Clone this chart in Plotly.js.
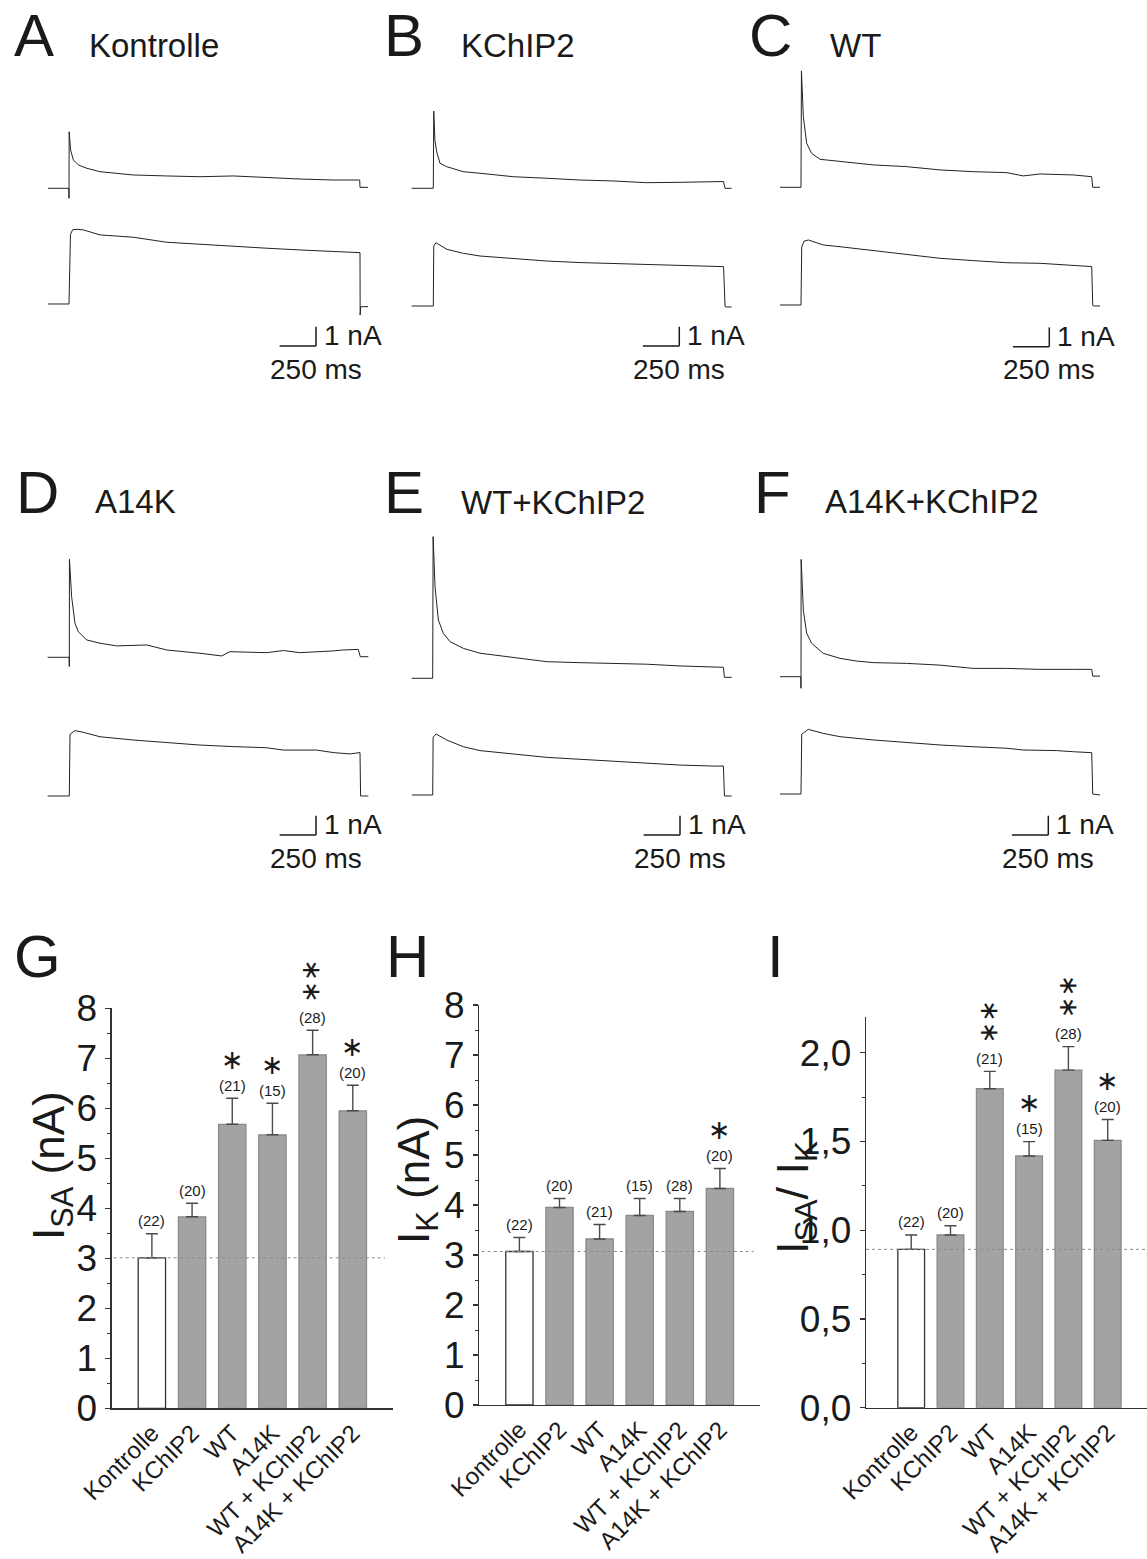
<!DOCTYPE html>
<html><head><meta charset="utf-8">
<script src="https://cdn.plot.ly/plotly-3.0.1.min.js"></script>
<style>html,body{margin:0;padding:0;background:#fff;}#chart{width:1147px;height:1559px;}</style>
</head><body><div id="chart"></div>
<script>
// ---------- DATA: current traces (time in ms, current in nA) ----------
const A_top_t = [-145, -1, 0, 1, 11, 30, 64, 121, 213, 442, 671, 900, 1129, 1359, 1588, 1817, 1998, 2000, 2055];
const A_top_i = [0, 0, -0.52, 2.93, 1.98, 1.47, 1.21, 1.04, 0.86, 0.69, 0.64, 0.6, 0.64, 0.55, 0.48, 0.43, 0.43, 0.05, 0.05];
const A_bot_t = [-145, -1, 0, 10, 25, 55, 98, 213, 442, 671, 900, 1129, 1359, 1588, 1817, 2000, 2001, 2005, 2055];
const A_bot_i = [0, 0, 0, 3.6, 3.85, 3.87, 3.84, 3.58, 3.46, 3.2, 3.09, 2.97, 2.89, 2.8, 2.71, 2.66, -0.57, -0.14, -0.14];

const B_top_t = [-149, -1, 0, 3, 11, 23, 46, 92, 206, 321, 550, 779, 1008, 1237, 1466, 1695, 1924, 1995, 2005, 2050];
const B_top_i = [0, 0, 0, 4.0, 2.5, 1.9, 1.3, 1.12, 0.86, 0.78, 0.6, 0.52, 0.43, 0.38, 0.29, 0.31, 0.35, 0.35, 0, 0];
const B_bot_t = [-149, -1, 0, 3, 18, 92, 206, 321, 550, 779, 1008, 1237, 1466, 1695, 1924, 1995, 2005, 2008, 2050];
const B_bot_i = [0, 0, 0, 3.1, 3.28, 2.94, 2.73, 2.59, 2.47, 2.33, 2.25, 2.21, 2.16, 2.12, 2.07, 2.04, 0, -0.05, -0.05];

const C_top_t = [-144, -1, 0, 3, 16, 39, 73, 131, 268, 497, 726, 955, 1184, 1414, 1528, 1643, 1872, 1998, 2005, 2055];
const C_top_i = [0, 0, 0, 6.03, 3.66, 2.28, 1.76, 1.45, 1.33, 1.16, 1.07, 0.9, 0.81, 0.76, 0.59, 0.69, 0.64, 0.55, 0, 0];
const C_bot_t = [-144, -1, 0, 5, 20, 50, 153, 268, 497, 726, 955, 1184, 1414, 1643, 1872, 1998, 2005, 2010, 2055];
const C_bot_i = [0, 0, 0, 3.0, 3.3, 3.37, 3.11, 3.02, 2.82, 2.59, 2.42, 2.30, 2.19, 2.16, 2.04, 1.99, 0, -0.05, -0.05];

const D_top_t = [-149, -1, 0, 1, 16, 39, 62, 119, 211, 325, 532, 669, 898, 1047, 1104, 1356, 1471, 1585, 1814, 1883, 1986, 2000, 2055];
const D_top_i = [0, 0, -0.48, 5.08, 3.14, 1.76, 1.33, 0.9, 0.73, 0.59, 0.64, 0.38, 0.21, 0.07, 0.29, 0.24, 0.35, 0.24, 0.33, 0.38, 0.41, 0.03, 0.03];
const D_bot_t = [-149, -1, 0, 5, 39, 96, 211, 440, 669, 898, 1127, 1356, 1471, 1700, 1814, 1929, 1998, 2002, 2055];
const D_bot_i = [0, 0, 0, 3.2, 3.39, 3.3, 3.07, 2.9, 2.76, 2.64, 2.56, 2.5, 2.38, 2.38, 2.25, 2.18, 2.25, 0, 0];

const E_top_t = [-144, -1, 0, 3, 16, 39, 73, 119, 211, 325, 554, 784, 1013, 1242, 1471, 1700, 1929, 1998, 2005, 2055];
const E_top_i = [0, 0, 0, 7.34, 4.75, 3.02, 2.33, 1.9, 1.55, 1.3, 1.07, 0.86, 0.81, 0.78, 0.73, 0.64, 0.6, 0.57, 0.05, 0.05];
const E_bot_t = [-144, -1, 0, 3, 23, 96, 211, 325, 554, 784, 1013, 1242, 1471, 1700, 1929, 1998, 2005, 2055];
const E_bot_i = [0, 0, 0, 3.0, 3.16, 2.85, 2.5, 2.3, 2.12, 1.95, 1.85, 1.76, 1.64, 1.55, 1.5, 1.5, -0.05, -0.05];

const F_top_t = [-144, -1, 0, 1, 16, 39, 73, 153, 268, 383, 497, 726, 955, 1184, 1414, 1643, 1872, 1998, 2005, 2055];
const F_top_i = [0, 0, -0.6, 6.08, 3.45, 2.25, 1.73, 1.21, 0.95, 0.81, 0.73, 0.69, 0.6, 0.43, 0.43, 0.38, 0.38, 0.38, 0.03, 0.03];
const F_bot_t = [-144, -1, 0, 5, 50, 153, 268, 497, 726, 955, 1184, 1414, 1528, 1757, 1872, 1998, 2005, 2055];
const F_bot_i = [0, 0, 0, 3.1, 3.35, 3.14, 2.97, 2.8, 2.66, 2.54, 2.45, 2.37, 2.28, 2.25, 2.19, 2.14, 0, -0.05];

// ---------- DATA: summary bars ----------
const groups = ['Kontrolle', 'KChIP2', 'WT', 'A14K', 'WT + KChIP2', 'A14K + KChIP2'];
const nCells = [22, 20, 21, 15, 28, 20];
const isaMean = [3.01, 3.83, 5.68, 5.47, 7.07, 5.95];
const isaSem  = [0.48, 0.27, 0.52, 0.63, 0.49, 0.51];
const isaSig  = ['', '', '*', '*', '**', '*'];
const ikMean  = [3.07, 3.95, 3.32, 3.79, 3.87, 4.33];
const ikSem   = [0.28, 0.18, 0.29, 0.34, 0.26, 0.40];
const ikSig   = ['', '', '', '', '', '*'];
const ratioMean = [0.892, 0.973, 1.797, 1.418, 1.902, 1.506];
const ratioSem  = [0.081, 0.052, 0.098, 0.081, 0.132, 0.118];
const ratioSig  = ['', '', '**', '*', '**', '*'];

// scale bar sizes
const scaleMs = 250, scaleNa = 1;

// ---------- LAYOUT HELPERS ----------
const W = 1147, H = 1559;
const px = v => v / W;
const py = v => 1 - v / H;
const K_MS = 0.1455;   // pixels per ms
const S_NA = 19.3;     // pixels per nA
const FONT = 'Liberation Sans, Arial, Helvetica, sans-serif';
const NARROW = 'Liberation Sans Narrow, Arial Narrow, Liberation Sans, sans-serif';
const STARFONT = 'DejaVu Sans, sans-serif';
const INK = '#1a1a1a';

const panels = [
  {letter:'A', name:'Kontrolle',   lx:12,  nx:87,  base:57,  onset:69,    top:188.3, bot:304, sbx:316,    sby:346,   tT:A_top_t, tI:A_top_i, bT:A_bot_t, bI:A_bot_i},
  {letter:'B', name:'KChIP2',      lx:382, nx:459, base:57,  onset:433.3, top:188.3, bot:306, sbx:679.3,  sby:346,   tT:B_top_t, tI:B_top_i, bT:B_bot_t, bI:B_bot_i},
  {letter:'C', name:'WT',          lx:747, nx:828, base:57,  onset:801,   top:187.3, bot:305, sbx:1049.3, sby:346.7, tT:C_top_t, tI:C_top_i, bT:C_bot_t, bI:C_bot_i},
  {letter:'D', name:'A14K',        lx:14,  nx:93,  base:513, onset:69.3,  top:657.3, bot:796, sbx:316,    sby:835,   tT:D_top_t, tI:D_top_i, bT:D_bot_t, bI:D_bot_i},
  {letter:'E', name:'WT+KChIP2',   lx:382, nx:459, base:514, onset:432.7, top:678.3, bot:795, sbx:680,    sby:835,   tT:E_top_t, tI:E_top_i, bT:E_bot_t, bI:E_bot_i},
  {letter:'F', name:'A14K+KChIP2', lx:752, nx:823, base:513, onset:801,   top:676.7, bot:794, sbx:1048.3, sby:835,   tT:F_top_t, tI:F_top_i, bT:F_bot_t, bI:F_bot_i}
];

const data = [];
const shapes = [];
const annotations = [];
const layout = {
  width: W, height: H,
  margin: {l:0, r:0, t:0, b:0},
  paper_bgcolor: '#fff', plot_bgcolor: 'rgba(0,0,0,0)',
  showlegend: false,
  separators: ',.',
  font: {family: FONT, color: INK},
  shapes: shapes, annotations: annotations
};

let ax = 1;
const axName = (k, n) => n === 1 ? k : k + n;

panels.forEach(p => {
  annotations.push({xref:'paper', yref:'paper', x:px(p.lx), y:py(p.base - 21), xanchor:'left', yanchor:'middle',
    text:p.letter, showarrow:false, font:{size:60, color:INK, family:FONT}});
  annotations.push({xref:'paper', yref:'paper', x:px(p.nx), y:py(p.base - 11.5), xanchor:'left', yanchor:'middle',
    text:p.name, showarrow:false, font:{size:33, color:INK, family:FONT}});
  const rows = [[p.tT, p.tI, p.top, [-1, 8]], [p.bT, p.bI, p.bot, [-1, 4.5]]];
  rows.forEach(([t, cur, b, yr]) => {
    const xn = axName('x', ax), yn = axName('y', ax);
    data.push({type:'scatter', mode:'lines', x:t, y:cur, xaxis:xn, yaxis:yn,
      line:{color:'#222', width:1}, hoverinfo:'skip', showlegend:false, cliponaxis:false});
    layout[axName('xaxis', ax)] = {domain:[px(p.onset - 160 * K_MS), px(p.onset + 2070 * K_MS)], range:[-160, 2070], visible:false, anchor:yn, fixedrange:true};
    layout[axName('yaxis', ax)] = {domain:[py(b - yr[0] * S_NA), py(b - yr[1] * S_NA)], range:yr, visible:false, anchor:xn, fixedrange:true};
    ax++;
  });
  const hx0 = p.sbx - scaleMs * K_MS, vy1 = p.sby - scaleNa * S_NA;
  shapes.push({type:'line', xref:'paper', yref:'paper', x0:px(hx0), x1:px(p.sbx), y0:py(p.sby), y1:py(p.sby), line:{color:INK, width:1.5}});
  shapes.push({type:'line', xref:'paper', yref:'paper', x0:px(p.sbx), x1:px(p.sbx), y0:py(p.sby), y1:py(vy1), line:{color:INK, width:1.5}});
  annotations.push({xref:'paper', yref:'paper', x:px(p.sbx + 6), y:py(p.sby - 10), xanchor:'left', yanchor:'middle',
    text:scaleNa + ' nA', showarrow:false, font:{size:28, color:INK, family:FONT}});
  annotations.push({xref:'paper', yref:'paper', x:px(p.sbx), y:py(p.sby + 23), xanchor:'center', yanchor:'middle',
    text:scaleMs + ' ms', showarrow:false, font:{size:28, color:INK, family:FONT}});
});

// ---------- bar panels ----------
const barPanels = [
  {letter:'G', lx:12, mean:isaMean, sem:isaSem, sig:isaSig, xdom:[111.7, 393], ydom:[1408.3, 1008.3], xr:[-1, 6], yr:[0, 8], dtick:1, minor:0.5, fmt:'d',
   refx:[-0.95, 5.8], title:'I<sub>SA</sub> (nA)', tx:52, ty:1166, ts:44},
  {letter:'H', lx:384, mean:ikMean, sem:ikSem, sig:ikSig, xdom:[479.3, 760], ydom:[1405, 1005], xr:[-1, 6], yr:[0, 8], dtick:1, minor:0.5, fmt:'d',
   refx:[-0.94, 5.84], title:'I<sub>K</sub> (nA)', tx:417, ty:1180, ts:44},
  {letter:'I', lx:765, mean:ratioMean, sem:ratioSem, sig:ratioSig, xdom:[866, 1147], ydom:[1407.7, 1017.2], xr:[-1.15, 6], yr:[0, 2.2], dtick:0.5, minor:0.25, fmt:'.1f',
   refx:[-1.15, 6], title:'I<sub>SA</sub>/ I<sub>K</sub>', tx:795, ty:1198, ts:45}
];

const STAR = '\u2217';

barPanels.forEach(bp => {
  const xn = axName('x', ax), yn = axName('y', ax);
  const fill = groups.map((g, k) => k === 0 ? '#ffffff' : '#a3a3a3');
  const edge = groups.map((g, k) => k === 0 ? '#333333' : '#8a8a8a');
  data.push({type:'bar', x:groups, y:bp.mean, xaxis:xn, yaxis:yn, width:0.68,
    marker:{color:fill, line:{color:edge, width:1.3}},
    error_y:{type:'data', symmetric:false, array:bp.sem, arrayminus:bp.sem.map(() => 0), color:'#4a4a4a', thickness:1.4, width:6},
    hoverinfo:'skip', showlegend:false});
  layout[axName('xaxis', ax)] = {domain:[px(bp.xdom[0]), px(bp.xdom[1])], range:bp.xr, type:'category', anchor:yn,
    showline:true, linecolor:'#333', linewidth:1.3, ticks:'', showgrid:false, zeroline:false, tickangle:-45,
    tickfont:{size:24, color:INK, family:FONT}, fixedrange:true, automargin:false};
  layout[axName('yaxis', ax)] = {domain:[py(bp.ydom[0]), py(bp.ydom[1])], range:bp.yr, anchor:xn,
    showline:true, linecolor:'#333', linewidth:1.3, ticks:'outside', ticklen:5, tickwidth:1.2, tickcolor:'#333',
    tick0:0, dtick:bp.dtick, tickformat:bp.fmt, ticklabelstandoff:1,
    minor:{dtick:bp.minor, ticks:'outside', ticklen:3, tickwidth:1, tickcolor:'#333'},
    showgrid:false, zeroline:false, tickfont:{size:37, color:INK, family:NARROW}, fixedrange:true, automargin:false};
  shapes.push({type:'line', xref:xn, yref:yn, x0:bp.refx[0], x1:bp.refx[1], y0:bp.mean[0], y1:bp.mean[0],
    line:{color:'#8c8c8c', width:1, dash:'dot'}, layer:'above'});
  groups.forEach((g, k) => {
    const topv = bp.mean[k] + bp.sem[k];
    annotations.push({xref:xn, yref:yn, x:g, y:topv, yshift:13, xanchor:'center', yanchor:'middle',
      text:'(' + nCells[k] + ')', showarrow:false, font:{size:15, color:INK, family:FONT}});
    const stars = bp.sig[k].length;
    if (stars === 1) {
      annotations.push({xref:xn, yref:yn, x:g, y:topv, yshift:39, xanchor:'center', yanchor:'middle',
        text:STAR, showarrow:false, font:{size:27, color:INK, family:STARFONT}});
    } else if (stars > 1) {
      // stacked marks drawn as one rotated line of text
      annotations.push({xref:xn, yref:yn, x:g, y:topv, yshift:39 + 10.5 * (stars - 1), xanchor:'center', yanchor:'middle',
        textangle:90, text:STAR.repeat(stars), showarrow:false, font:{size:26, color:INK, family:STARFONT}});
    }
  });
  annotations.push({xref:'paper', yref:'paper', x:px(bp.lx), y:py(956), xanchor:'left', yanchor:'middle',
    text:bp.letter, showarrow:false, font:{size:60, color:INK, family:FONT}});
  annotations.push({xref:'paper', yref:'paper', x:px(bp.tx), y:py(bp.ty), xanchor:'center', yanchor:'middle', textangle:-90,
    text:bp.title, showarrow:false, font:{size:bp.ts, color:INK, family:FONT}});
  ax++;
});

Plotly.newPlot('chart', data, layout, {staticPlot:true, displayModeBar:false});
</script>
</body></html>
